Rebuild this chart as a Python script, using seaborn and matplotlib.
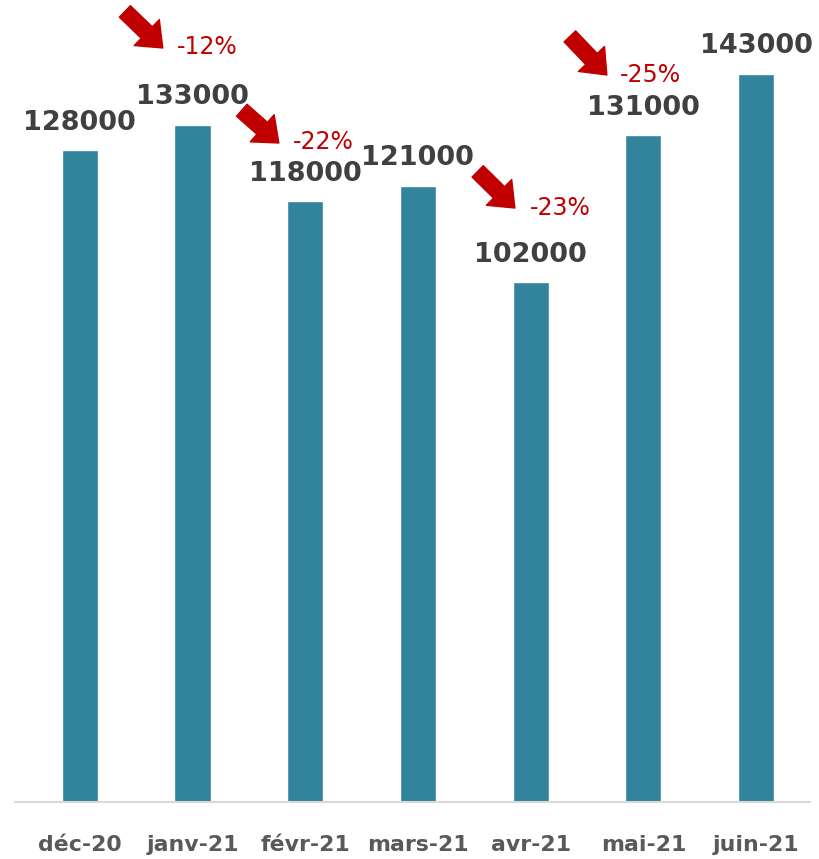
import matplotlib
matplotlib.use("Agg")
import matplotlib.pyplot as plt
import seaborn as sns
import pandas as pd

months = ["déc-20", "janv-21", "févr-21", "mars-21", "avr-21", "mai-21", "juin-21"]
values = [128000, 133000, 118000, 121000, 102000, 131000, 143000]
pct_labels = ["-12%", "-22%", "-23%", "-25%"]

# annotation layout (data coordinates): text anchor and arrow tail/tip
pct_text_pos = [(0.86, 148200), (1.89, 129560), (3.99, 116610), (4.79, 142720)]
arrow_tail = [(0.40, 155200), (1.437, 135800), (3.53, 123800), (4.348, 150300)]
arrow_tip = [(0.736, 148020), (1.766, 129370), (3.86, 116610), (4.676, 142720)]

sns.set_style("white")
plt.rcParams["font.family"] = ["DejaVu Sans"]

df = pd.DataFrame({"mois": months, "valeur": values})

fig = plt.figure(figsize=(8.2, 8.59), dpi=100)
ax = fig.add_axes([0.018, 0.0663, 0.97, 0.9337])

bar_color = "#31849B"
sns.barplot(data=df, x="mois", y="valeur", color=bar_color, saturation=1,
            width=0.32, ax=ax)

ax.set_ylim(0, 157440)
ax.set_xlim(-0.577, 6.48)
ax.set_xlabel("")
ax.set_ylabel("")
ax.set_yticks([])
for s in ["top", "right", "left"]:
    ax.spines[s].set_visible(False)
ax.spines["bottom"].set_color("#D9D9D9")
ax.spines["bottom"].set_linewidth(1.5)
ax.tick_params(axis="x", length=0, pad=24, labelsize=15.8, labelcolor="#595959")
for lab in ax.get_xticklabels():
    lab.set_fontweight("bold")

# value labels
for i, v in enumerate(values):
    ax.annotate(f"{v}", xy=(i, v), xytext=(0, 14.5), textcoords="offset points",
                ha="center", va="baseline", fontsize=19.5, fontweight="bold",
                color="#404040")

# percentage annotations with red arrows
red = "#C00000"
for lab, (tx, ty), tail, tip in zip(pct_labels, pct_text_pos, arrow_tail, arrow_tip):
    ax.text(tx, ty, lab, ha="left", va="center", fontsize=17, color=red)
    ax.annotate("", xy=tip, xytext=tail, textcoords="data",
                arrowprops=dict(arrowstyle="simple,head_length=1.6,head_width=2.6,tail_width=1.15",
                                mutation_scale=10, color=red, shrinkA=0, shrinkB=0),
                annotation_clip=False)

fig.savefig("out.png", dpi=100)
